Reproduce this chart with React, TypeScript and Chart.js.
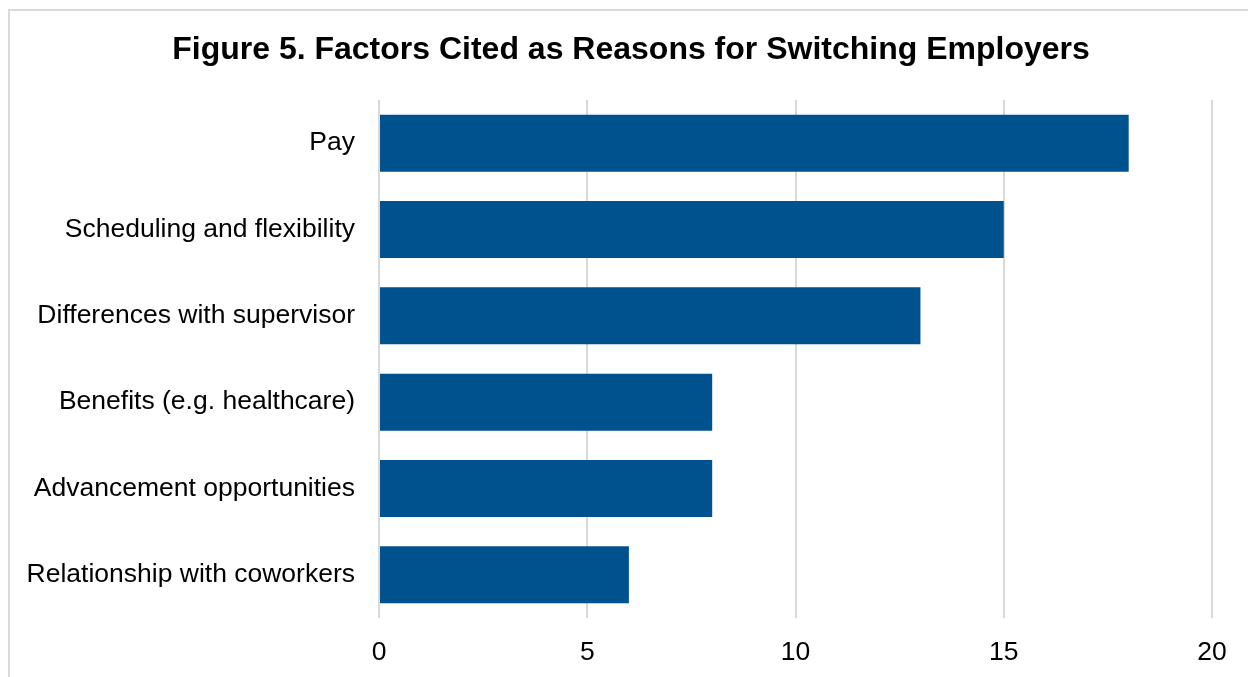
import React, { useEffect, useRef } from "react";
import { Chart, registerables } from "chart.js";

Chart.register(...registerables);

const categories = [
  "Pay",
  "Scheduling and flexibility",
  "Differences with supervisor",
  "Benefits (e.g. healthcare)",
  "Advancement opportunities",
  "Relationship with coworkers",
];
const values = [18, 15, 13, 8, 8, 6];
const xTicks = [0, 5, 10, 15, 20];
const titleText = "Figure 5. Factors Cited as Reasons for Switching Employers";

const FONT = "'Liberation Sans', Arial, sans-serif";

const titlePlugin = {
  id: "figTitle",
  afterDraw(chart: any) {
    const ctx = chart.ctx;
    ctx.save();
    ctx.font = `bold 32px ${FONT}`;
    ctx.fillStyle = "#000";
    ctx.textAlign = "center";
    ctx.textBaseline = "middle";
    ctx.fillText(titleText, 631, 50);
    ctx.restore();
  },
};

export default function App() {
  const ref = useRef<HTMLCanvasElement | null>(null);
  useEffect(() => {
    if (!ref.current) return;
    const chart = new Chart(ref.current, {
      type: "bar",
      data: {
        labels: categories,
        datasets: [
          {
            data: values,
            backgroundColor: "#00528F",
            barPercentage: 0.66,
            categoryPercentage: 1,
          },
        ],
      },
      plugins: [titlePlugin],
      options: {
        indexAxis: "y",
        animation: false,
        responsive: false,
        maintainAspectRatio: false,
        layout: { padding: { left: 0, right: 36, top: 100, bottom: 0 } },
        plugins: {
          legend: { display: false },
          tooltip: { enabled: false },
          title: { display: false },
        },
        scales: {
          x: {
            min: 0,
            max: 20,
            afterBuildTicks: (axis: any) => {
              axis.ticks = xTicks.map((v) => ({ value: v }));
            },
            grid: { color: "#d9d9d9", lineWidth: 2, drawTicks: false },
            border: { display: false },
            ticks: {
              color: "#000",
              padding: 19,
              font: { family: FONT, size: 26.5 },
            },
            afterFit: (axis: any) => {
              axis.height = 59;
            },
          },
          y: {
            grid: { display: false, drawTicks: false },
            border: { display: false },
            ticks: {
              color: "#000",
              padding: 24,
              font: { family: FONT, size: 26.5 },
            },
            afterFit: (axis: any) => {
              axis.width = 379;
            },
          },
        },
      },
    });
    return () => chart.destroy();
  }, []);

  return (
    <div
      style={{
        position: "fixed",
        left: 0,
        top: 0,
        width: 1248,
        height: 677,
        overflow: "hidden",
        background: "#fff",
      }}
    >
      <div
        style={{
          position: "absolute",
          left: 8,
          top: 9,
          width: 1400,
          height: 800,
          border: "2px solid #d9d9d9",
          boxSizing: "border-box",
        }}
      />
      <canvas
        ref={ref}
        width={1248}
        height={677}
        style={{ position: "absolute", left: 0, top: 0, width: 1248, height: 677 }}
      />
    </div>
  );
}
